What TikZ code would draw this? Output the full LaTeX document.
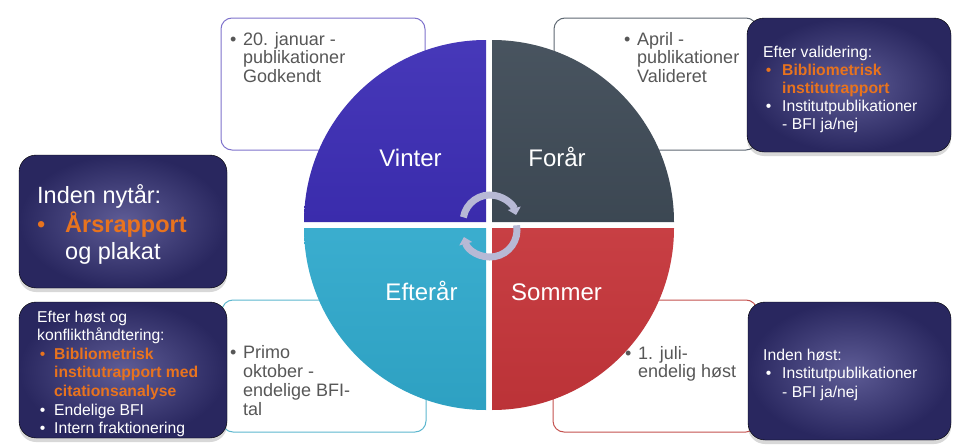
\documentclass[tikz,border=0pt]{standalone}
\usepackage{fontspec}
\setmainfont{Liberation Sans}
\usetikzlibrary{arrows.meta,shadows}

\definecolor{vinterfill}{HTML}{3D2EB5}
\definecolor{foraarfill}{HTML}{3F4B57}
\definecolor{efteraarfill}{HTML}{30A9CC}
\definecolor{sommerfill}{HTML}{C5353A}
\definecolor{vinterline}{HTML}{7E72CC}
\definecolor{foraarline}{HTML}{5E6872}
\definecolor{efteraarline}{HTML}{5DB7CF}
\definecolor{sommerline}{HTML}{C4524F}
\definecolor{darkin}{HTML}{5E5C96}
\definecolor{darkout}{HTML}{29275F}
\definecolor{orangetxt}{HTML}{E8731E}
\definecolor{graytxt}{HTML}{575757}
\definecolor{arrowgray}{HTML}{B7B9D5}

\def\boxlines#1{\begin{tabular}[t]{@{}l@{}}#1\end{tabular}}

\tikzset{
  seasonbox/.style={draw=#1, line width=1pt, rounded corners=11pt, fill=white},
  darkbox/.style={rounded corners=17pt, inner color=darkin, outer color=darkout,
    drop shadow={opacity=0.3, shadow xshift=0pt, shadow yshift=-4pt}},
  quarter/.style={top color=#1!95!white, bottom color=#1!95!black},
  seasonlabel/.style={text=white, inner sep=0pt, anchor=base, font=\fontsize{24}{28}\selectfont},
  boxtext/.style={text=graytxt, inner sep=0pt, anchor=base west},
  darktext/.style={text=white, inner sep=0pt, anchor=base west},
  turn/.style={draw=arrowgray, line width=7pt, -{Triangle[length=7pt,width=13pt]}}
}

\begin{document}
\begin{tikzpicture}[x=1pt, y=-1pt]
	%%%%% START %%%%%
	\useasboundingbox[fill=white] (0,0) rectangle (953,447);
	
	% outline boxes behind the circle
	\draw[seasonbox=vinterline] (221,18) rectangle (425,150);
	\draw[seasonbox=foraarline] (554,18) rectangle (757,150);
	\draw[seasonbox=efteraarline] (222,300) rectangle (426,432);
	\draw[seasonbox=sommerline] (553,300) rectangle (757,432);
	
	\node[boxtext, font=\fontsize{18}{18.5}\selectfont] (vintertxt) at (230,45)
	  {\boxlines{\makebox[13pt][l]{\textbullet}20. januar -\\ \hspace*{13pt}publikationer\\ \hspace*{13pt}Godkendt}};
	\node[boxtext, font=\fontsize{18}{18.5}\selectfont] (foraartxt) at (624,45)
	  {\boxlines{\makebox[13pt][l]{\textbullet}April -\\ \hspace*{13pt}publikationer\\ \hspace*{13pt}Valideret}};
	\node[boxtext, font=\fontsize{18}{19.3}\selectfont] (efteraartxt) at (230,358)
	  {\boxlines{\makebox[13pt][l]{\textbullet}Primo\\ \hspace*{13pt}oktober -\\ \hspace*{13pt}endelige BFI-\\ \hspace*{13pt}tal}};
	\node[boxtext, font=\fontsize{18}{18.5}\selectfont] (sommertxt) at (625,359)
	  {\boxlines{\makebox[13pt][l]{\textbullet}1. juli-\\ \hspace*{13pt}endelig høst}};
	
	% the four quarters
	\path[quarter=vinterfill] (486,222) -- ++(-182,0) arc[start angle=180, end angle=270, radius=182] -- cycle;
	\path[quarter=foraarfill] (492,222) -- ++(0,-182) arc[start angle=270, end angle=360, radius=182] -- cycle;
	\path[quarter=efteraarfill] (486,228) -- ++(0,182) arc[start angle=90, end angle=180, radius=182] -- cycle;
	\path[quarter=sommerfill] (492,228) -- ++(182,0) arc[start angle=0, end angle=90, radius=182] -- cycle;
	
	\node[seasonlabel] (vinter) at (410.5,166) {Vinter};
	\node[seasonlabel] (foraar) at (557,166) {Forår};
	\node[seasonlabel] (efteraar) at (421.5,300) {Efterår};
	\node[seasonlabel] (sommer) at (556.5,300) {Sommer};
	
	% turning arrows
	\draw[turn] (490,222) ++(190:27) arc[start angle=190, end angle=345, radius=27];
	\draw[turn] (490,230) ++(-10:27) arc[start angle=-10, end angle=165, radius=27];
	
	% dark boxes
	\draw[darkbox] (19,155) rectangle (227,288);
	\node[darktext, font=\fontsize{23.5}{27.7}\selectfont] (nytaar) at (37,203)
	  {\boxlines{Inden nytår:\\ \textcolor{orangetxt}{\makebox[28pt][l]{\textbullet}\bfseries Årsrapport}\\ \hspace*{28pt}og plakat}};
	
	\draw[darkbox] (19,302) rectangle (227,438);
	\node[darktext, font=\fontsize{15.7}{18.6}\selectfont] (konflikt) at (37,322)
	  {\boxlines{Efter høst og\\ konflikthåndtering:\\
	  \textcolor{orangetxt}{\makebox[17pt][l]{\,\textbullet}\bfseries Bibliometrisk}\\
	  \hspace*{17pt}\textcolor{orangetxt}{\bfseries institutrapport med}\\
	  \hspace*{17pt}\textcolor{orangetxt}{\bfseries citationsanalyse}\\
	  \makebox[17pt][l]{\,\textbullet}Endelige BFI\\
	  \makebox[17pt][l]{\,\textbullet}Intern fraktionering}};
	
	\draw[darkbox] (747,18) rectangle (951,152);
	\node[darktext, font=\fontsize{15.7}{18}\selectfont] (validering) at (763,57)
	  {\boxlines{Efter validering:\\
	  \textcolor{orangetxt}{\makebox[19pt][l]{\,\textbullet}\bfseries Bibliometrisk}\\
	  \hspace*{19pt}\textcolor{orangetxt}{\bfseries institutrapport}\\
	  \makebox[19pt][l]{\,\textbullet}Institutpublikationer\\
	  \hspace*{19pt}- BFI ja/nej}};
	
	\draw[darkbox] (748,302) rectangle (951,440);
	\node[darktext, font=\fontsize{15.7}{18.5}\selectfont] (hoest) at (763,360)
	  {\boxlines{Inden høst:\\
	  \makebox[19pt][l]{\,\textbullet}Institutpublikationer\\
	  \hspace*{19pt}- BFI ja/nej}};
	
	%%%%% END %%%%%
\end{tikzpicture}
\end{document}
